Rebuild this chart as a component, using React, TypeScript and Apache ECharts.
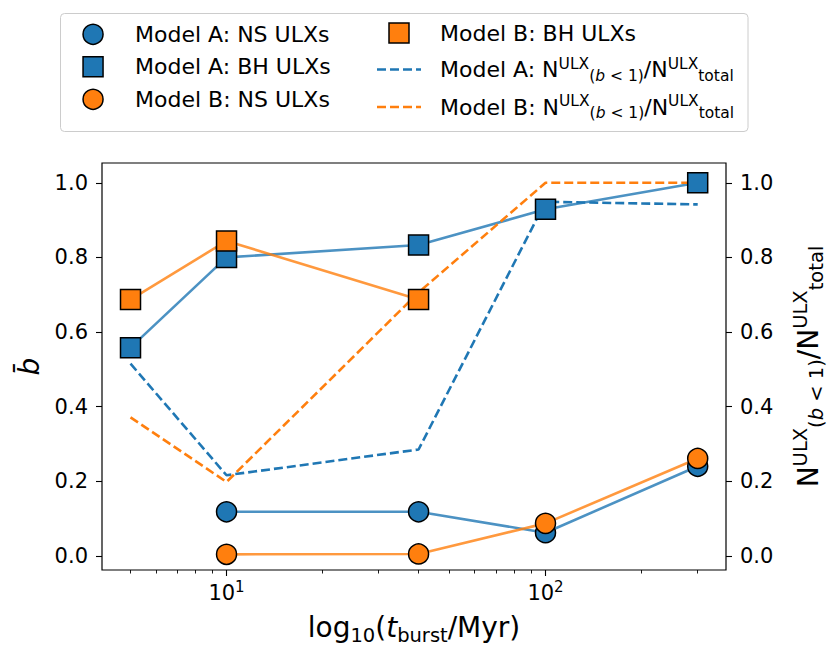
import React, { useEffect, useRef } from 'react';
import * as echarts from 'echarts';

// ---- data ----
const tAll = [5, 10, 40, 100, 300];
const tNS = [10, 40, 100, 300];
const tBH_B = [5, 10, 40];
const modelA_NS = [0.118, 0.118, 0.062, 0.24];
const modelA_BH = [0.558, 0.8, 0.833, 0.929, 1.0];
const modelB_NS = [0.004, 0.005, 0.087, 0.261];
const modelB_BH = [0.687, 0.844, 0.687];
const modelA_frac = [0.515, 0.216, 0.285, 0.949, 0.942];
const modelB_frac = [0.371, 0.198, 0.706, 1.0, 1.0];

const xMajorTicks = [10, 100];
const xMinorTicks = [5, 6, 7, 8, 9, 20, 30, 40, 50, 60, 70, 80, 90, 200, 300];
const yTicks = [0, 0.2, 0.4, 0.6, 0.8, 1.0];
const xRange = [4.07, 368];
const yRange = [-0.038, 1.053];

const names = {
  aNS: 'Model A: NS ULXs',
  aBH: 'Model A: BH ULXs',
  bNS: 'Model B: NS ULXs',
  bBH: 'Model B: BH ULXs',
  aFrac: 'Model A: NULX(b < 1)/NULXtotal',
  bFrac: 'Model B: NULX(b < 1)/NULXtotal',
};

const BLUE = '#1f77b4';
const ORANGE = '#ff7f0e';
const FONT = 'DejaVu Sans';

const pair = (xs: number[], ys: number[]) => xs.map((x, i) => [x, ys[i]]);

const fracRich = (model: string) =>
  `{n|Model ${model}: N}{sup|ULX}{sub|(}{subi|b}{sub| < 1)}{n|/N}{sup|ULX}{sub|total}`;

export default function App() {
  const ref = useRef<HTMLDivElement>(null);
  useEffect(() => {
    if (!ref.current) return;
    const chart = echarts.init(ref.current, null, { renderer: 'svg' });

    const markerSeries = (name: string, xs: number[], ys: number[], color: string, symbol: string) => ({
      name,
      type: 'line',
      xAxisIndex: 0,
      yAxisIndex: 0,
      data: pair(xs, ys),
      symbol,
      symbolSize: 20,
      showSymbol: true,
      silent: true,
      lineStyle: { color, width: 2.6, opacity: 0.8 },
      itemStyle: { color, borderColor: '#000', borderWidth: 1.5, opacity: 1 },
    });
    const dashSeries = (name: string, ys: number[], color: string) => ({
      name,
      type: 'line',
      xAxisIndex: 0,
      yAxisIndex: 1,
      data: pair(tAll, ys),
      symbol: 'none',
      showSymbol: false,
      silent: true,
      lineStyle: { color, width: 2.6, type: [9, 4] },
      itemStyle: { color },
    });

    const dashIcon = 'path://M0,0h9v2.6h-9z M13,0h9v2.6h-9z M26,0h9v2.6h-9z M39,0h5v2.6h-5z';
    const squareIcon = 'path://M0,0h10v10h-10z';
    const supSub = {
      n: { fontSize: 22, lineHeight: 28, verticalAlign: 'middle', fontFamily: FONT, color: '#000' },
      sup: { fontSize: 15.5, lineHeight: 15.5, verticalAlign: 'top', fontFamily: FONT, color: '#000' },
      sub: { fontSize: 15.5, lineHeight: 15.5, verticalAlign: 'bottom', fontFamily: FONT, color: '#000' },
      subi: { fontSize: 15.5, lineHeight: 15.5, verticalAlign: 'bottom', fontStyle: 'italic', fontFamily: FONT, color: '#000' },
    };
    const markerItemStyle = { borderColor: '#000', borderWidth: 1.5 };

    const yAxisCommon = (position: 'left' | 'right') => ({
      type: 'value',
      position,
      min: yRange[0],
      max: yRange[1],
      splitLine: { show: false },
      axisLine: { show: false, onZero: false },
      axisTick: { show: true, length: 6, customValues: yTicks, lineStyle: { color: '#000', width: 1.1 } },
      axisLabel: {
        customValues: yTicks,
        formatter: (v: number) => v.toFixed(1),
        fontSize: 21,
        fontFamily: FONT,
        color: '#000',
        margin: 14,
      },
    });

    const option: any = {
      animation: false,
      backgroundColor: '#ffffff',
      textStyle: { fontFamily: FONT },
      grid: {
        left: 102,
        right: 105,
        top: 163,
        bottom: 87,
        show: true,
        borderColor: '#000',
        borderWidth: 1.2,
        backgroundColor: 'transparent',
        containLabel: false,
        outerBoundsMode: 'none',
      },
      graphic: [
        {
          type: 'rect',
          z: 0,
          silent: true,
          shape: { x: 60.5, y: 13.5, width: 687.5, height: 118, r: 4 },
          style: { fill: 'rgba(255,255,255,0.8)', stroke: '#cccccc', lineWidth: 1 },
        },
      ],
      legend: [
        {
          orient: 'vertical',
          left: 82.3,
          top: 21.3,
          padding: 0,
          itemGap: 6.5,
          itemWidth: 44,
          itemHeight: 20,
          selectedMode: false,
          textStyle: { fontSize: 22, lineHeight: 26, fontFamily: FONT, color: '#000', padding: [0, 0, 0, 15], rich: supSub },
          data: [
            { name: names.aNS, icon: 'circle', itemStyle: markerItemStyle },
            { name: names.aBH, icon: squareIcon, itemStyle: markerItemStyle },
            { name: names.bNS, icon: 'circle', itemStyle: markerItemStyle },
          ],
        },
        {
          orient: 'vertical',
          left: 377,
          top: 20,
          padding: 0,
          itemGap: 9.5,
          itemWidth: 44,
          itemHeight: 20,
          selectedMode: false,
          textStyle: { fontSize: 22, lineHeight: 26, fontFamily: FONT, color: '#000', padding: [0, 0, 0, 14], rich: supSub },
          formatter: (name: string) => {
            if (name === names.aFrac) return fracRich('A');
            if (name === names.bFrac) return fracRich('B');
            return name;
          },
          data: [
            { name: names.bBH, icon: squareIcon, itemStyle: markerItemStyle },
            { name: names.aFrac, icon: dashIcon, itemStyle: { borderWidth: 0 } },
            { name: names.bFrac, icon: dashIcon, itemStyle: { borderWidth: 0 } },
          ],
        },
      ],
      xAxis: [
        {
          type: 'log',
          logBase: 10,
          position: 'bottom',
          min: xRange[0],
          max: xRange[1],
          splitLine: { show: false },
          axisLine: { show: false, onZero: false },
          axisTick: { show: true, length: 6, customValues: xMajorTicks, lineStyle: { color: '#000', width: 1.1 } },
          axisLabel: {
            customValues: xMajorTicks,
            margin: 9,
            formatter: (v: number) => `{n|10}{s|${Math.round(Math.log10(v))}}`,
            rich: {
              n: { fontSize: 21, lineHeight: 28, verticalAlign: 'middle', fontFamily: FONT, color: '#000' },
              s: { fontSize: 15, lineHeight: 15, verticalAlign: 'top', fontFamily: FONT, color: '#000' },
            },
          },
          name: '{n|log}{sub|10}{n|(}{it|t}{sub|burst}{n|/Myr)}',
          nameLocation: 'middle',
          nameGap: 39,
          nameTextStyle: {
            rich: {
              n: { fontSize: 28, lineHeight: 36, verticalAlign: 'middle', fontFamily: FONT, color: '#000' },
              it: { fontSize: 28, lineHeight: 36, verticalAlign: 'middle', fontStyle: 'italic', fontFamily: FONT, color: '#000' },
              sub: { fontSize: 19.5, lineHeight: 19.5, verticalAlign: 'bottom', fontFamily: FONT, color: '#000' },
            },
          },
        },
        {
          type: 'log',
          logBase: 10,
          position: 'bottom',
          min: xRange[0],
          max: xRange[1],
          splitLine: { show: false },
          axisLine: { show: false, onZero: false },
          axisTick: { show: true, length: 3.5, customValues: xMinorTicks, lineStyle: { color: '#000', width: 0.9 } },
          axisLabel: { show: false },
        },
      ],
      yAxis: [
        {
          ...yAxisCommon('left'),
          name: 'b\u0304',
          nameLocation: 'middle',
          nameRotate: 90,
          nameGap: 57,
          nameTextStyle: { fontSize: 28, fontStyle: 'italic', fontFamily: FONT, color: '#000' },
        },
        {
          ...yAxisCommon('right'),
          name: '{n|N}{sup|ULX}{sub|(}{subi|b}{sub| < 1)}{n|/N}{sup|ULX}{sub|total}',
          nameLocation: 'middle',
          nameRotate: 90,
          nameGap: 64,
          nameTextStyle: {
            rich: {
              n: { fontSize: 28, lineHeight: 36, verticalAlign: 'middle', fontFamily: FONT, color: '#000' },
              sup: { fontSize: 19.5, lineHeight: 19.5, verticalAlign: 'top', fontFamily: FONT, color: '#000' },
              sub: { fontSize: 19.5, lineHeight: 19.5, verticalAlign: 'bottom', fontFamily: FONT, color: '#000' },
              subi: { fontSize: 19.5, lineHeight: 19.5, verticalAlign: 'bottom', fontStyle: 'italic', fontFamily: FONT, color: '#000' },
            },
          },
        },
      ],
      series: [
        markerSeries(names.aNS, tNS, modelA_NS, BLUE, 'circle'),
        markerSeries(names.aBH, tAll, modelA_BH, BLUE, 'rect'),
        markerSeries(names.bNS, tNS, modelB_NS, ORANGE, 'circle'),
        markerSeries(names.bBH, tBH_B, modelB_BH, ORANGE, 'rect'),
        dashSeries(names.aFrac, modelA_frac, BLUE),
        dashSeries(names.bFrac, modelB_frac, ORANGE),
      ],
    };

    chart.setOption(option);
    return () => chart.dispose();
  }, []);

  return (
    <div
      ref={ref}
      style={{ position: 'fixed', left: 0, top: 0, width: 831, height: 657, background: '#fff' }}
    />
  );
}
